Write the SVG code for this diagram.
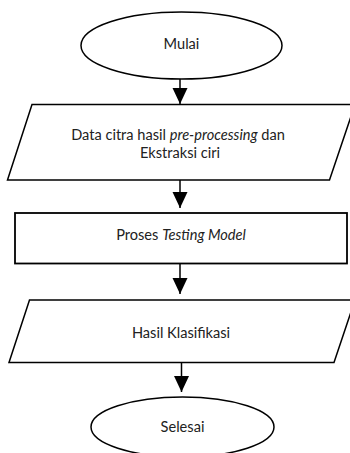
<svg xmlns="http://www.w3.org/2000/svg" width="350" height="453" viewBox="0 0 350 453">
<style>
.s{fill:#fff;stroke:#000;stroke-width:1.5}
.r{fill:#fff;stroke:#000;stroke-width:1.8}
.t{font-family:Lato,"Open Sans","Liberation Sans",sans-serif;font-size:14.6px;fill:#222;text-anchor:middle}
.c{stroke:#000;stroke-width:1.5;fill:none;marker-end:url(#ah)}
</style>
<defs>
<marker id="ah" markerUnits="userSpaceOnUse" markerWidth="16" markerHeight="16" refX="16" refY="7.5" orient="auto">
<path d="M0,0 L16,7.5 L0,15 z" fill="#000"/>
</marker>
</defs>
<rect width="350" height="453" fill="#fff"/>
<g id="connectors">
<line class="c" x1="180" y1="79" x2="180" y2="104"/>
<line class="c" x1="180" y1="180" x2="180" y2="208"/>
<line class="c" x1="180" y1="264" x2="180" y2="294"/>
<line class="c" x1="181.5" y1="363" x2="181.5" y2="392"/>
</g>
<g id="mulai">
<ellipse class="s" cx="181.5" cy="45.5" rx="100.5" ry="33.5"/>
<text class="t" x="181.5" y="48.5">Mulai</text>
</g>
<g id="data">
<polygon class="s" points="32,104.5 355,104.5 329.5,180 7.5,180"/>
<text class="t" x="178" y="140">Data citra hasil <tspan font-style="italic">pre-processing</tspan> dan</text>
<text class="t" x="180" y="158">Ekstraksi ciri</text>
</g>
<g id="proses">
<rect class="r" x="15" y="213" width="332" height="50.5"/>
<text class="t" x="181" y="240">Proses <tspan font-style="italic">Testing Model</tspan></text>
</g>
<g id="hasil">
<polygon class="s" points="29.5,300 355,300 334,362.5 9,362.5"/>
<text class="t" x="181" y="338">Hasil Klasifikasi</text>
</g>
<g id="selesai">
<ellipse class="s" cx="182.5" cy="427" rx="91.5" ry="30"/>
<text class="t" x="182.5" y="432">Selesai</text>
</g>
</svg>
